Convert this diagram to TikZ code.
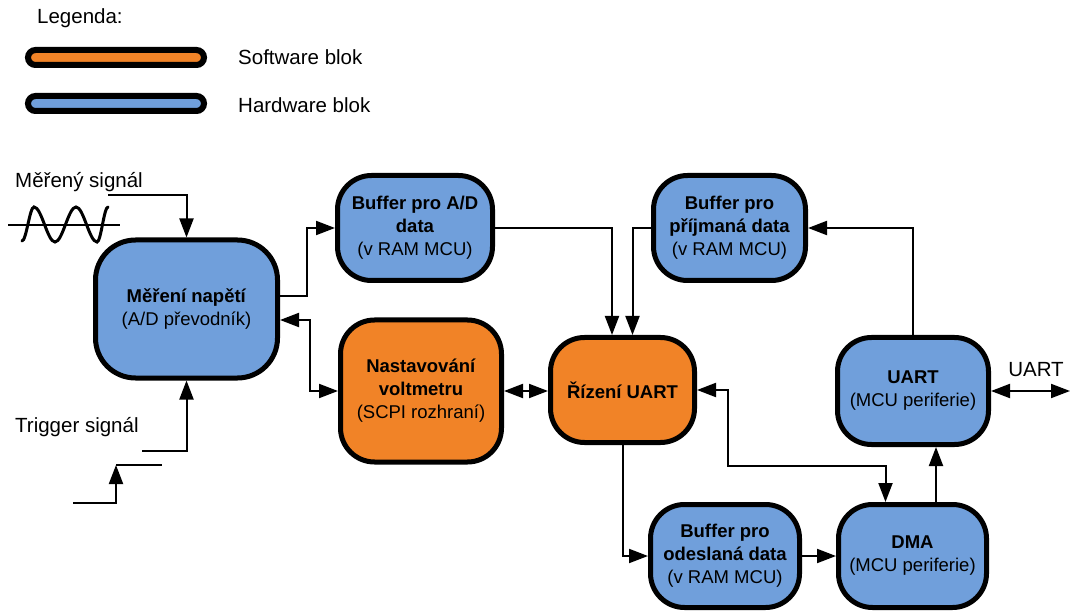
\documentclass[tikz,border=0pt]{standalone}
\usepackage{fontspec}
\setmainfont{Liberation Sans}
\usetikzlibrary{arrows.meta,calc}
\definecolor{swcol}{RGB}{241,131,39}
\definecolor{hwcol}{RGB}{112,159,219}
\tikzset{
  blk/.style={draw=black,line width=5pt,rounded corners=34pt,align=center,
    font=\fontsize{18.5}{23}\selectfont,inner sep=0pt},
  swblk/.style={blk,fill=swcol},
  hwblk/.style={blk,fill=hwcol},
  conn/.style={line width=2pt,line join=miter},
  tip/.tip={Triangle[length=19pt,width=14pt]},
  arr/.style={conn,-tip},
  darr/.style={conn,tip-tip},
  lbl/.style={font=\fontsize{20.5}{24}\selectfont,inner sep=0pt},
  legbar/.style={draw=black,line width=6pt,rounded corners=7.5pt}
}
\begin{document}
\begin{tikzpicture}[x=1pt,y=-1pt]
\useasboundingbox (0,0) rectangle (1071,612);

% legend
\node[lbl,anchor=west] (legtitle) at (37,18) {Legenda:};
\draw[legbar,fill=swcol] (28,50) rectangle (204,65);
\node[lbl,anchor=west] (legsw) at (238,57) {Software blok};
\draw[legbar,fill=hwcol] (28,96) rectangle (204,111);
\node[lbl,anchor=west] (leghw) at (238,105) {Hardware blok};

% blocks
\node[hwblk,rounded corners=40pt,minimum width=182pt,minimum height=138pt] (mer) at (186.5,309)
  {\textbf{Měření napětí}\\(A/D převodník)};
\node[hwblk,minimum width=155pt,minimum height=105pt] (bad) at (415,228)
  {\textbf{Buffer pro A/D}\\\textbf{data}\\(v RAM MCU)};
\node[swblk,minimum width=161pt,minimum height=142pt] (nast) at (421,391)
  {\textbf{Nastavování}\\\textbf{voltmetru}\\(SCPI rozhraní)};
\node[swblk,minimum width=144pt,minimum height=105pt] (riz) at (622.5,390)
  {\textbf{Řízení UART}};
\node[hwblk,minimum width=152pt,minimum height=105pt] (bpr) at (729.5,228)
  {\textbf{Buffer pro}\\\textbf{příjmaná data}\\(v RAM MCU)};
\node[hwblk,minimum width=151pt,minimum height=107pt] (uart) at (913,391)
  {\textbf{UART}\\(MCU periferie)};
\node[hwblk,minimum width=149pt,minimum height=103pt] (bod) at (725,556)
  {\textbf{Buffer pro}\\\textbf{odeslaná data}\\(v RAM MCU)};
\node[hwblk,minimum width=148pt,minimum height=103pt] (dma) at (912.5,556)
  {\textbf{DMA}\\(MCU periferie)};

% input signals
\node[lbl,anchor=west] (sigtxt) at (15,182) {Měřený signál};
\node[lbl,anchor=west] (trigtxt) at (15,427) {Trigger signál};
\coordinate (sigin) at (108,195);
\coordinate (trigin) at (142,451);
\draw[arr] (sigin) -| (mer.north);
\draw[arr] (trigin) -| (mer.south);

% sine wave symbol
\coordinate (axl) at (8,225);
\coordinate (axr) at (120,225);
\draw[conn,line width=1.5pt] (axl) -- (axr);
\draw[line width=3pt,line cap=round] (22,241) cos (28,224) sin (34,207) cos (44.5,224.5) sin (55,242)
  cos (65.5,224.5) sin (76,207) cos (86.5,224.5) sin (97,242) cos (102.5,224.5) sin (108,207);

% trigger step symbol
\coordinate (stp0) at (73,503);
\coordinate (stp1) at (116,503);
\coordinate (stp2) at (116,465);
\coordinate (stp3) at (162,465);
\draw[arr] (stp0) -- (stp1) -- (stp2);
\draw[conn] (stp2) -- (stp3);

% connections
\draw[arr] ([yshift=13pt]mer.east) -- ++(27,0) |- (bad.west);
\draw[darr] ([yshift=-11pt]mer.east) -- ++(30,0) |- (nast.west);
\draw[darr] (nast.east) -- (nast.east -| riz.west);
\draw[arr] (bad.east) -| ([xshift=-10.5pt]riz.north);
\draw[arr] (bpr.west) -| ([xshift=10pt]riz.north);
\draw[arr] (uart.north) |- (bpr.east);
\coordinate (uout) at (1070,391);
\draw[darr] (uart.east) -- (uout);
\node[lbl] (uartlbl) at (1036,370) {UART};
\draw[arr] (riz.south) |- (bod.west);
\draw[arr] (bod.east) -- (dma.west);
\draw[arr] ([xshift=23.5pt]dma.north) -- ([xshift=23.5pt]dma.north |- uart.south);
\coordinate (kink) at (728,466);
\draw[darr] (riz.east) -| (kink) -| ([xshift=-27pt]dma.north);
\end{tikzpicture}
\end{document}
